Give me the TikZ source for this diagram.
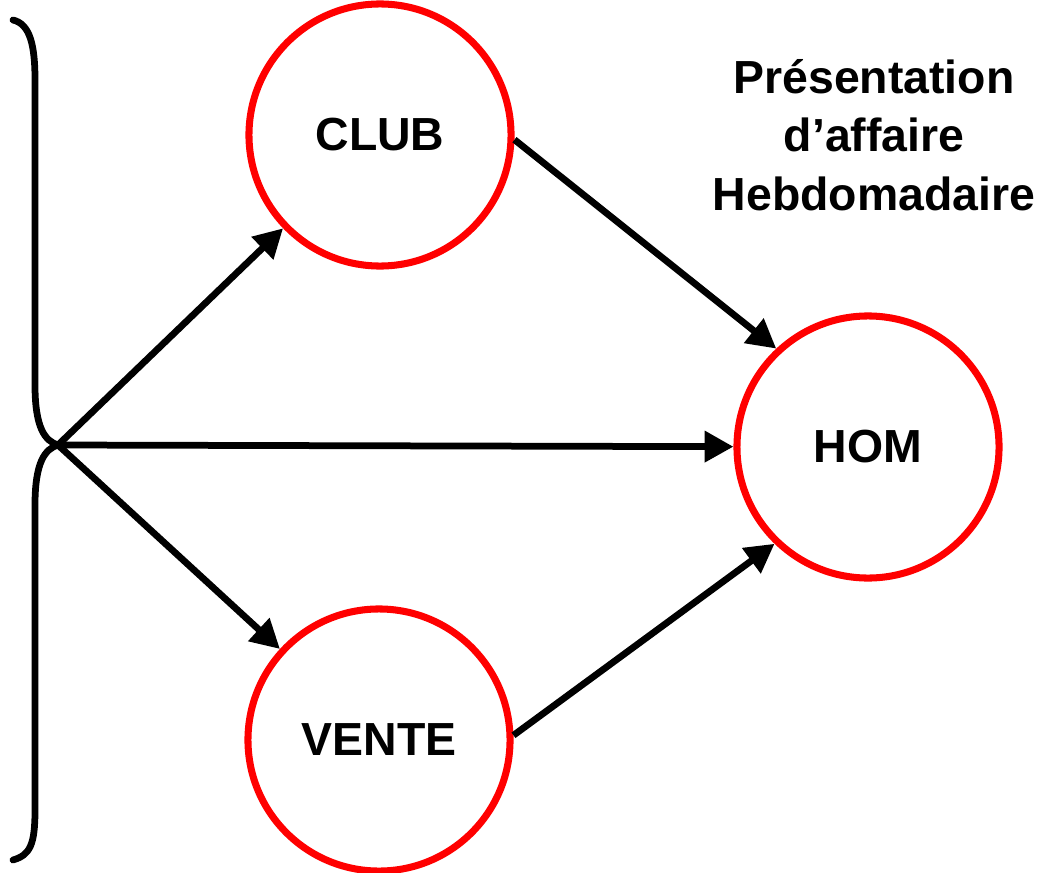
\documentclass[tikz,border=0pt]{standalone}
\usepackage{fontspec}
\setmainfont{Liberation Sans}
\usetikzlibrary{arrows.meta}
\begin{document}
\begin{tikzpicture}[
  x=0.025cm, y=-0.025cm,
  cnode/.style={circle, draw=red, line width=5pt, inner sep=0pt, minimum size=6.55cm,
    font=\fontsize{33}{40}\selectfont\bfseries},
  arc/.style={line width=4.8pt, draw=black, -{Triangle[length=0.72cm, width=0.75cm]}},
  tlabel/.style={align=center, font=\fontsize{33}{41.5}\selectfont\bfseries}
]
  \useasboundingbox (0,0) rectangle (1064,873);

  % Noeuds
  \node[cnode] (club) at (380,135) {CLUB};
  \node[cnode] (hom) at (868,447) {HOM};
  \node[cnode] (vente) at (379,740) {VENTE};
  \node[tlabel] (titre) at (874,135) {Présentation\\d’affaire\\Hebdomadaire};

  % Accolade
  \coordinate (tip) at (58,445);
  \draw[line width=4.8pt, line cap=round]
    (13,20) .. controls (30,24) and (35,45) .. (35,80) -- (35,385)
    .. controls (35,428) and (45,441) .. (tip)
    .. controls (45,449) and (35,462) .. (35,505) -- (35,810)
    .. controls (35,845) and (30,855) .. (13,860);

  % Fleches
  \draw[arc] (tip) -- (club);
  \draw[arc] (tip) -- (hom);
  \draw[arc] (tip) -- (vente);
  \draw[arc] (club.-2) -- (hom.133);
  \draw[arc] (vente.2) -- (hom.226);
\end{tikzpicture}
\end{document}
